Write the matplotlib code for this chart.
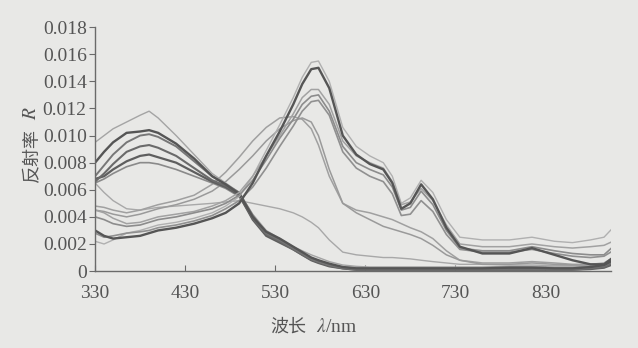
import numpy as np
import matplotlib
matplotlib.use("Agg")
import matplotlib.pyplot as plt

# wavelength grid (nm) shared by all curves
wl = [330, 340, 350, 365, 380, 390, 400, 420, 440, 460, 475, 490, 505, 520, 535,
      550, 560, 570, 578, 590, 605, 620, 635, 650, 660, 670, 680, 692, 705, 720,
      735, 760, 790, 815, 840, 860, 880, 895, 905]

# reflectance curves, in units of 1e-3
# blue-peak group
a1 = [9.5, 10.0, 10.5, 11.0, 11.5, 11.8, 11.3, 10.0, 8.6, 7.2, 6.5, 5.8, 4.2, 3.0, 2.4,
      1.8, 1.5, 1.2, 1.0, 0.7, 0.45, 0.35, 0.3, 0.3, 0.3, 0.3, 0.3, 0.3, 0.3, 0.3,
      0.3, 0.3, 0.35, 0.35, 0.3, 0.3, 0.35, 0.45, 0.6]
a2 = [8.0, 8.8, 9.5, 10.2, 10.3, 10.4, 10.2, 9.4, 8.3, 7.0, 6.4, 5.7, 4.0, 2.9, 2.4,
      1.8, 1.4, 1.0, 0.8, 0.55, 0.3, 0.2, 0.2, 0.2, 0.2, 0.2, 0.2, 0.2, 0.2, 0.2,
      0.2, 0.2, 0.25, 0.25, 0.2, 0.2, 0.3, 0.45, 0.8]
a3 = [7.0, 7.8, 8.6, 9.5, 10.0, 10.1, 9.9, 9.2, 8.1, 7.0, 6.4, 5.8, 4.1, 2.8, 2.3,
      1.7, 1.3, 0.9, 0.7, 0.45, 0.25, 0.15, 0.15, 0.15, 0.15, 0.15, 0.15, 0.15, 0.15, 0.15,
      0.15, 0.15, 0.2, 0.2, 0.15, 0.15, 0.25, 0.4, 0.7]
a4 = [6.6, 7.2, 7.9, 8.8, 9.2, 9.3, 9.1, 8.5, 7.6, 6.7, 6.3, 5.7, 3.9, 2.7, 2.2,
      1.6, 1.2, 0.85, 0.65, 0.4, 0.2, 0.1, 0.1, 0.1, 0.1, 0.1, 0.1, 0.1, 0.1, 0.1,
      0.1, 0.1, 0.1, 0.1, 0.1, 0.1, 0.2, 0.3, 0.6]
a5 = [6.8, 7.0, 7.5, 8.1, 8.5, 8.6, 8.4, 8.0, 7.3, 6.6, 6.2, 5.6, 3.8, 2.6, 2.1,
      1.6, 1.2, 0.8, 0.6, 0.35, 0.2, 0.1, 0.1, 0.1, 0.1, 0.1, 0.1, 0.1, 0.1, 0.1,
      0.1, 0.1, 0.1, 0.1, 0.1, 0.1, 0.15, 0.25, 0.5]
a6 = [6.5, 6.8, 7.2, 7.7, 8.0, 8.0, 7.9, 7.5, 7.0, 6.5, 6.1, 5.5, 3.9, 2.7, 2.2,
      1.7, 1.3, 0.9, 0.7, 0.45, 0.3, 0.25, 0.25, 0.25, 0.25, 0.25, 0.25, 0.25, 0.25, 0.25,
      0.25, 0.25, 0.3, 0.3, 0.25, 0.25, 0.3, 0.4, 0.6]

# green-peak group
b1 = [2.2, 2.0, 2.3, 2.8, 3.0, 3.2, 3.4, 3.6, 3.9, 4.3, 4.8, 5.5, 7.0, 8.9, 10.8,
      12.8, 14.3, 15.4, 15.5, 14.0, 10.6, 9.2, 8.5, 8.0, 7.0, 5.0, 5.4, 6.7, 5.8, 3.8,
      2.5, 2.3, 2.3, 2.5, 2.2, 2.1, 2.3, 2.5, 3.2]
b2 = [3.0, 2.6, 2.4, 2.5, 2.6, 2.8, 3.0, 3.2, 3.5, 3.9, 4.3, 5.0, 6.5, 8.5, 10.3,
      12.3, 13.8, 14.9, 15.0, 13.5, 10.0, 8.6, 7.9, 7.5, 6.5, 4.6, 5.0, 6.4, 5.3, 3.2,
      1.8, 1.3, 1.3, 1.7, 1.2, 0.8, 0.5, 0.5, 1.0]
b3 = [4.5, 4.3, 3.9, 3.5, 3.6, 3.8, 4.0, 4.2, 4.4, 4.8, 5.2, 5.8, 7.0, 8.5, 10.0,
      11.6, 12.8, 13.4, 13.4, 12.3, 9.6, 8.5, 8.0, 7.6, 6.6, 4.9, 5.1, 6.1, 5.2, 3.4,
      2.0, 1.8, 1.8, 2.0, 1.8, 1.7, 1.8, 1.9, 2.2]
b4 = [4.0, 3.8, 3.5, 3.3, 3.4, 3.6, 3.8, 4.0, 4.3, 4.6, 5.0, 5.6, 6.7, 8.2, 9.8,
      11.2, 12.3, 12.9, 13.0, 11.8, 9.2, 8.0, 7.5, 7.1, 6.2, 4.5, 4.7, 5.9, 4.9, 3.0,
      1.7, 1.5, 1.5, 1.8, 1.5, 1.3, 1.2, 1.2, 1.8]
b5 = [2.8, 2.5, 2.6, 2.8, 2.9, 3.0, 3.2, 3.4, 3.7, 4.1, 4.6, 5.2, 6.2, 7.6, 9.2,
      10.7, 11.8, 12.5, 12.6, 11.5, 8.8, 7.6, 7.0, 6.6, 5.7, 4.1, 4.2, 5.2, 4.4, 2.7,
      1.6, 1.4, 1.4, 1.6, 1.3, 1.1, 1.0, 1.1, 1.5]

# broad peaks near 540-560 nm
c1 = [4.8, 4.7, 4.5, 4.3, 4.5, 4.7, 4.9, 5.2, 5.6, 6.4, 7.3, 8.4, 9.6, 10.6, 11.3,
      11.4, 11.2, 10.5, 9.3, 7.0, 5.0, 4.5, 4.3, 4.0, 3.8, 3.5, 3.2, 2.9, 2.4, 1.5,
      0.8, 0.6, 0.6, 0.7, 0.6, 0.5, 0.5, 0.6, 1.0]
c2 = [4.5, 4.4, 4.2, 4.0, 4.2, 4.4, 4.6, 4.9, 5.3, 5.9, 6.6, 7.5, 8.5, 9.6, 10.5,
      11.1, 11.3, 11.0, 10.0, 7.5, 5.0, 4.3, 3.8, 3.3, 3.1, 2.9, 2.7, 2.4, 1.9, 1.2,
      0.8, 0.5, 0.5, 0.6, 0.5, 0.45, 0.45, 0.5, 0.8]
# flat decreasing curve
d1 = [6.5, 5.8, 5.2, 4.6, 4.5, 4.6, 4.7, 4.8, 4.9, 5.0, 5.1, 5.2, 5.0, 4.8, 4.6,
      4.3, 4.0, 3.6, 3.2, 2.3, 1.4, 1.2, 1.1, 1.0, 1.0, 0.95, 0.9, 0.8, 0.7, 0.6,
      0.5, 0.5, 0.45, 0.45, 0.4, 0.4, 0.4, 0.45, 0.6]

curves = [
    (d1, "#a8a8a8", 1.0),
    (c1, "#a0a0a0", 1.1),
    (c2, "#9a9a9a", 1.1),
    (a1, "#a4a4a4", 1.0),
    (a6, "#8a8a8a", 1.2),
    (a5, "#5e5e5e", 1.6),
    (a4, "#6a6a6a", 1.5),
    (a3, "#777777", 1.4),
    (a2, "#555555", 1.7),
    (b1, "#b0b0b0", 1.0),
    (b3, "#a2a2a2", 1.1),
    (b4, "#8c8c8c", 1.2),
    (b5, "#909090", 1.2),
    (b2, "#555555", 1.7),
]

plt.rcParams["font.family"] = ["Liberation Serif", "Noto Sans CJK SC"]
plt.rcParams["mathtext.fontset"] = "stix"
bg = "#e8e8e6"
txt = "#555555"

W, H = 638.0, 348.0
fig = plt.figure(figsize=(6.38, 3.48), dpi=100, facecolor=bg)
ax = fig.add_axes([0.149, 0.221, 0.809, 0.701], facecolor=bg)

for vals, col, lw in curves:
    ax.plot(wl, np.array(vals) / 1000.0, color=col, lw=lw)

ax.set_xlim(330, 903)
ax.set_ylim(0, 0.018)
ax.set_xticks([330, 430, 530, 630, 730, 830])
ax.set_yticks(np.arange(0, 0.0181, 0.002))
ax.set_yticklabels(["0"] + ["%.3f" % v for v in np.arange(0.002, 0.0181, 0.002)])

for s in ["top", "right"]:
    ax.spines[s].set_visible(False)
for s in ["left", "bottom"]:
    ax.spines[s].set_color("#6a6a6a")
    ax.spines[s].set_linewidth(1.0)

ax.tick_params(axis="x", direction="in", length=4, color="#6a6a6a", pad=10)
ax.tick_params(axis="y", direction="out", length=4, color="#6a6a6a", pad=2)
for lab in ax.get_xticklabels() + ax.get_yticklabels():
    lab.set_fontsize(14)
    lab.set_color(txt)

# axis titles, placed in pixel units (Chinese and italic symbol as separate texts)
cjk = ["Noto Sans CJK SC", "DejaVu Sans"]
fig.text(306 / W, 1 - 327 / H, "波长", ha="right", va="center", fontsize=13,
         color=txt, family=cjk)
fig.text(316 / W, 1 - 327 / H, "$\\lambda$/nm", ha="left", va="center",
         fontsize=14, color=txt)
fig.text(32 / W, 1 - 155 / H, "反射率", ha="center", va="center", rotation=90,
         fontsize=13, color=txt, family=cjk)
fig.text(32 / W, 1 - 113 / H, "$R$", ha="center", va="center", rotation=90,
         fontsize=14, color=txt)

fig.savefig("out.png", dpi=100, facecolor=bg)
